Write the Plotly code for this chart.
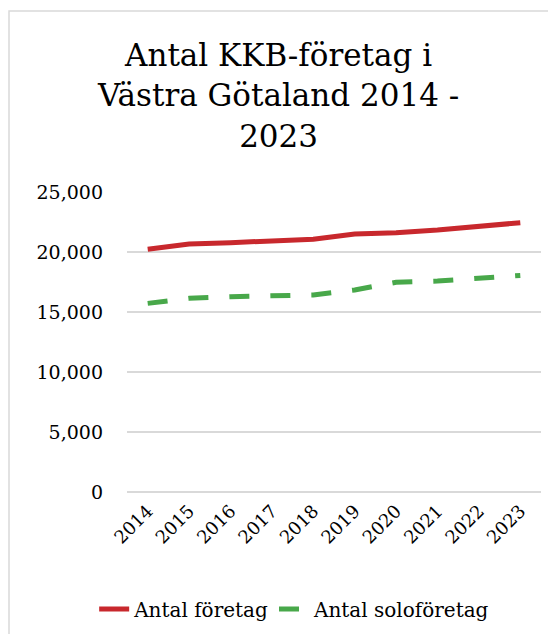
import plotly.graph_objects as go

years = ["2014", "2015", "2016", "2017", "2018", "2019", "2020", "2021", "2022", "2023"]
antal_foretag = [20230, 20660, 20780, 20940, 21060, 21500, 21610, 21830, 22170, 22440]
antal_solo = [15720, 16140, 16280, 16360, 16420, 16830, 17480, 17580, 17780, 18050]
yticks = [0, 5000, 10000, 15000, 20000, 25000]
yticklabels = ["0", "5,000", "10,000", "15,000", "20,000", "25,000"]
title_text = "Antal KKB-företag i<br>Västra Götaland 2014 -<br>2023"

font = "DejaVu Serif, Liberation Serif, serif"

fig = go.Figure()
fig.add_trace(go.Scatter(x=years, y=antal_foretag, mode="lines", name="Antal företag",
                         line=dict(color="#c8282d", width=5)))
fig.add_trace(go.Scatter(x=years, y=antal_solo, mode="lines", name="Antal soloföretag",
                         line=dict(color="#48a84a", width=5, dash="20px,21px")))

fig.update_layout(
    width=556, height=634,
    margin=dict(l=119, r=23, t=184, b=150, autoexpand=False),
    paper_bgcolor="white", plot_bgcolor="white",
    font=dict(family=font, color="#000000"),
    showlegend=True,
    legend=dict(orientation="h", x=0.405, xanchor="center", y=-0.325, yanchor="top",
                font=dict(size=20, family=font), tracegroupgap=0),
    xaxis=dict(type="category", range=[-0.5, 9.5], tickangle=-45, showgrid=False,
               showline=False, ticks="", tickfont=dict(size=18, family=font),
               ticklabelstandoff=4, automargin=False),
    yaxis=dict(range=[0, 25000], tickvals=yticks, ticktext=yticklabels, showgrid=True,
               gridcolor="#d9d9d9", gridwidth=1.5, zeroline=True, zerolinecolor="#d9d9d9",
               zerolinewidth=1.5, showline=False, ticks="", ticklabelstandoff=23,
               tickfont=dict(size=19, family=font), automargin=False),
    annotations=[dict(text=title_text, xref="paper", yref="paper", x=0.365, y=1.525,
                      xanchor="center", yanchor="top", showarrow=False, align="center",
                      font=dict(size=31, family=font, color="#000000"))],
    shapes=[dict(type="rect", xref="paper", yref="paper", x0=-0.285, x1=1.2, y0=-0.6, y1=1.603,
                 line=dict(color="#d9d9d9", width=1.5), fillcolor="rgba(0,0,0,0)", layer="below")],
)

fig.write_html("out.html")
